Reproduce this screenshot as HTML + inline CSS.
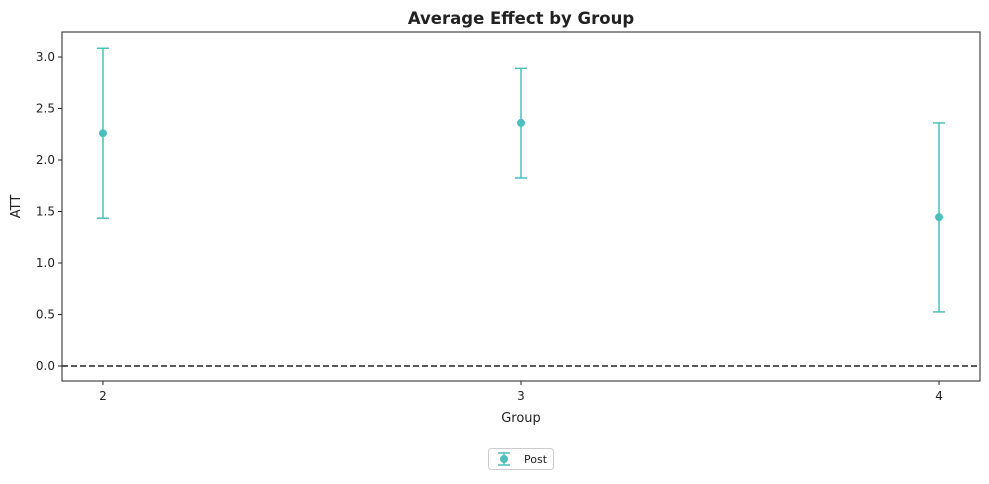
<!DOCTYPE html>
<html><head><meta charset="utf-8"><style>
body{margin:0;background:#fff;font-family:"DejaVu Sans","Liberation Sans",sans-serif}
</style></head><body>
<svg id="c" width="989" height="480" xmlns="http://www.w3.org/2000/svg" font-family="DejaVu Sans, Liberation Sans, sans-serif"></svg>
<script>
const groups=[2,3,4];
const att=[2.26,2.36,1.445];
const lower=[1.435,1.825,0.525];
const upper=[3.085,2.89,2.36];
const yTicks=[0,0.5,1,1.5,2,2.5,3];
const yTickLabels=["0.0","0.5","1.0","1.5","2.0","2.5","3.0"];
const xTickLabels=["2","3","4"];
const L=62,R=980,T=32,B=381;
const xMin=1.902,xMax=4.098,yMin=-0.146,yMax=3.243;
const X=v=>L+(v-xMin)/(xMax-xMin)*(R-L);
const Y=v=>B-(v-yMin)/(yMax-yMin)*(B-T);
const svg=document.getElementById('c');
const NS='http://www.w3.org/2000/svg';
function mk(tag,attrs,name,parent){const e=document.createElementNS(NS,tag);for(const k in attrs)e.setAttribute(k,attrs[k]);


(parent||svg).appendChild(e);return e;}
const C='#4dbdbd';
mk('text',{x:(L+R)/2,y:24,'text-anchor':'middle','font-size':16.5,'font-weight':'bold',fill:'#222'},'chart-title').textContent='Average Effect by Group';
mk('line',{x1:L,x2:R,y1:Y(0),y2:Y(0),stroke:'#222','stroke-width':1.5,'stroke-dasharray':'6,3'},'zero-line');
yTicks.forEach((t,i)=>{
  mk('line',{x1:L-4,x2:L,y1:Y(t),y2:Y(t),stroke:'#222'},'y-tick');
  mk('text',{x:L-7,y:Y(t)+4,'text-anchor':'end','font-size':12,fill:'#222'},'y-tick-label').textContent=yTickLabels[i];
});
groups.forEach((g,i)=>{
  mk('line',{x1:X(g),x2:X(g),y1:B,y2:B+4,stroke:'#222'},'x-tick');
  mk('text',{x:X(g),y:B+19,'text-anchor':'middle','font-size':12,fill:'#222'},'x-tick-label').textContent=xTickLabels[i];
  const x=X(g);
  mk('line',{x1:x,x2:x,y1:Y(lower[i]),y2:Y(upper[i]),stroke:C,'stroke-width':1.5},'error-bar');
  mk('line',{x1:x-6,x2:x+6,y1:Y(lower[i]),y2:Y(lower[i]),stroke:C,'stroke-width':1.5},'error-cap-low');
  mk('line',{x1:x-6,x2:x+6,y1:Y(upper[i]),y2:Y(upper[i]),stroke:C,'stroke-width':1.5},'error-cap-high');
  mk('circle',{cx:x,cy:Y(att[i]),r:4,fill:C},'point-group-'+g);
});
mk('rect',{x:L,y:T,width:R-L,height:B-T,fill:'none',stroke:'#222','stroke-width':1},'plot-frame');
mk('text',{x:(L+R)/2,y:422,'text-anchor':'middle','font-size':13,fill:'#222'},'x-axis-title').textContent='Group';
mk('text',{x:20,y:(T+B)/2,'text-anchor':'middle','font-size':13,fill:'#222',transform:`rotate(-90 20 ${(T+B)/2})`},'y-axis-title').textContent='ATT';
const lg=mk('g',{},'legend');
mk('rect',{x:488.5,y:448.5,width:65,height:21,rx:3,fill:'#fff',stroke:'#ccc'},'legend-box',lg);
mk('line',{x1:504,x2:504,y1:453,y2:465,stroke:C,'stroke-width':1.5},'legend-bar',lg);
mk('line',{x1:498,x2:510,y1:453,y2:453,stroke:C,'stroke-width':1.5},'legend-cap',lg);
mk('line',{x1:498,x2:510,y1:465,y2:465,stroke:C,'stroke-width':1.5},'legend-cap',lg);
mk('circle',{cx:504,cy:459,r:4,fill:C},'legend-marker',lg);
mk('text',{x:524,y:463,'font-size':11,fill:'#222'},'legend-label',lg).textContent='Post';
</script>
</body></html>
